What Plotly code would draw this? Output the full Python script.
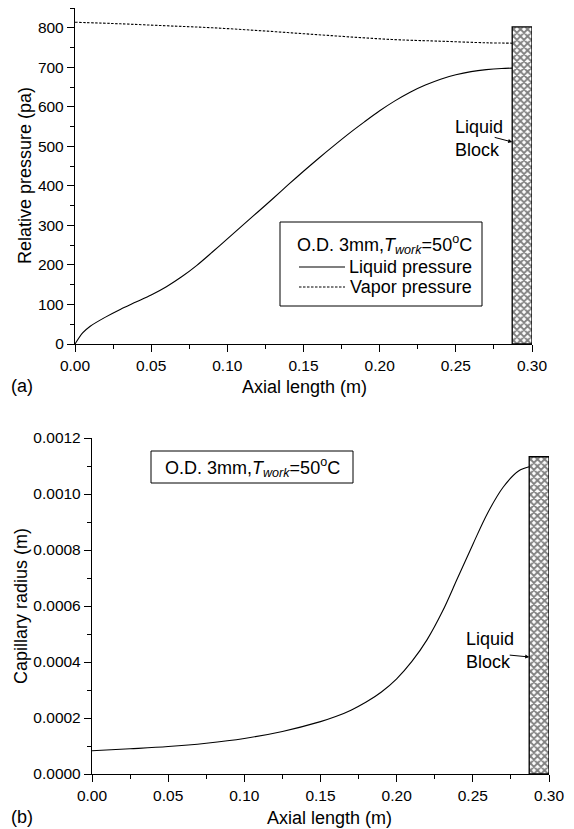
import plotly.graph_objects as go

# (a) pressure along the axis
x_liq = [0, 0.005, 0.01, 0.02, 0.03, 0.04, 0.05, 0.06, 0.07, 0.08, 0.09, 0.10,
         0.11, 0.12, 0.13, 0.14, 0.15, 0.16, 0.17, 0.18, 0.19, 0.20,
         0.21, 0.22, 0.23, 0.24, 0.25, 0.26, 0.27, 0.28, 0.287]
p_liq = [0, 28, 45, 68, 88, 106, 124, 145, 170, 199, 232, 266,
         300, 334, 368, 403, 437, 470, 502, 533, 562, 590,
         615, 637, 655, 670, 681, 689, 694, 697, 698]

x_vap = [0, 0.03, 0.06, 0.09, 0.12, 0.15, 0.18, 0.21, 0.24, 0.27, 0.287]
p_vap = [814, 810, 805, 800, 793, 785, 777, 770, 766, 762, 761]

# (b) capillary radius along the axis
x_rad = [0, 0.025, 0.05, 0.075, 0.10, 0.125, 0.15, 0.16, 0.17, 0.18, 0.19, 0.20,
         0.21, 0.22, 0.23, 0.24, 0.25, 0.26, 0.27, 0.28, 0.287]
r_cap = [0.83e-4, 0.90e-4, 0.98e-4, 1.10e-4, 1.27e-4, 1.52e-4, 1.87e-4, 2.05e-4, 2.28e-4,
         2.57e-4, 2.93e-4, 3.40e-4, 4.02e-4, 4.80e-4, 5.80e-4, 7.00e-4, 8.20e-4,
         9.35e-4, 10.25e-4, 10.82e-4, 10.97e-4]

# liquid block
block_x0, block_x1 = 0.287, 0.30
block_top_a = 802
block_top_b = 0.001133

# the page body has an 8px margin, so the figure is drawn 8px smaller
OFF = 8
W, H = 574 - OFF, 829 - OFF
FONT = "Liberation Sans, Arial, sans-serif"


def px(x):
    return (x - OFF) / W


def py(y):
    return 1 - (y - OFF) / H


fig = go.Figure()

fig.add_trace(go.Scatter(x=x_liq, y=p_liq, mode="lines",
                         line=dict(color="black", width=1.1, shape="spline", smoothing=0.8),
                         xaxis="x", yaxis="y", showlegend=False))
fig.add_trace(go.Scatter(x=x_vap, y=p_vap, mode="lines",
                         line=dict(color="black", width=1.1, dash="2.5px,1.5px", shape="spline"),
                         xaxis="x", yaxis="y", showlegend=False))
fig.add_trace(go.Scatter(x=x_rad, y=r_cap, mode="lines",
                         line=dict(color="black", width=1.1, shape="spline", smoothing=1.0),
                         xaxis="x2", yaxis="y2", showlegend=False))

hatch = dict(shape="x", fgcolor="black", bgcolor="white", size=5, solidity=0.6)
for top, xa, ya in [(block_top_a, "x", "y"), (block_top_b, "x2", "y2")]:
    fig.add_trace(go.Bar(x=[(block_x0 + block_x1) / 2], y=[top], width=[block_x1 - block_x0],
                         marker=dict(color="white", pattern=hatch, line=dict(color="black", width=1.3)),
                         xaxis=xa, yaxis=ya, showlegend=False))

axis_common = dict(
    showline=True, linecolor="black", linewidth=1.3, mirror=False, automargin=False,
    ticks="outside", ticklen=7, tickwidth=1.2, tickcolor="black",
    showgrid=False, zeroline=False,
    tickfont=dict(family=FONT, size=15.5, color="black"),
)

fig.update_layout(
    width=W, height=H,
    margin=dict(l=0, r=0, t=0, b=0),
    paper_bgcolor="white", plot_bgcolor="white",
    showlegend=False,
    xaxis=dict(domain=[px(75), px(532)], anchor="y", range=[0, 0.30], dtick=0.05, tickformat=".2f",
               minor=dict(ticks="outside", ticklen=4, dtick=0.025, tickcolor="black"), **axis_common),
    yaxis=dict(domain=[py(344), py(8)], anchor="x", range=[0, 850], tick0=0, dtick=100,
               minor=dict(ticks="outside", ticklen=4, dtick=50, tickcolor="black"), **axis_common),
    xaxis2=dict(domain=[px(92), px(549)], anchor="y2", range=[0, 0.30], dtick=0.05, tickformat=".2f",
                minor=dict(ticks="outside", ticklen=4, dtick=0.025, tickcolor="black"), **axis_common),
    yaxis2=dict(domain=[py(774), py(438)], anchor="x2", range=[0, 0.0012], dtick=0.0002, tickformat=".4f",
                minor=dict(ticks="outside", ticklen=4, dtick=0.0001, tickcolor="black"), **axis_common),
)

txt = dict(family=FONT, size=18, color="black")
title_cond = "O.D. 3mm,<i>T</i><sub><i>work</i></sub>=50<sup>o</sup>C"

ann = [
    # axis titles
    dict(x=px(25), y=py(176), text="Relative pressure (pa)", textangle=-90),
    dict(x=px(304), y=py(387), text="Axial length (m)"),
    dict(x=px(21), y=py(606), text="Capillary radius (m)", textangle=-90),
    dict(x=px(329), y=py(818), text="Axial length (m)"),
    dict(x=px(22), y=py(386), text="(a)"),
    dict(x=px(22), y=py(817), text="(b)"),
    # legend (a)
    dict(x=px(474), y=py(244), text=title_cond, xanchor="right"),
    dict(x=px(474), y=py(267), text="Liquid pressure", xanchor="right"),
    dict(x=px(474), y=py(287), text="Vapor pressure", xanchor="right"),
    # legend (b)
    dict(x=px(252), y=py(467), text=title_cond),
    # liquid block labels
    dict(x=px(453), y=py(139), text="Liquid<br>Block", xanchor="left", align="left"),
    dict(x=px(464), y=py(650), text="Liquid<br>Block", xanchor="left", align="left"),
]
for a in ann:
    a.setdefault("xanchor", "center")
    a.update(xref="paper", yref="paper", yanchor="middle", showarrow=False, font=txt)
    fig.add_annotation(**a)

# arrows to the block
fig.add_annotation(x=block_x0, y=511, xref="x", yref="y", ax=-19, ay=-5, text="",
                   showarrow=True, arrowhead=2, arrowsize=0.8, arrowwidth=1, arrowcolor="black")
fig.add_annotation(x=block_x0, y=0.000418, xref="x2", yref="y2", ax=-21, ay=-2, text="",
                   showarrow=True, arrowhead=2, arrowsize=0.8, arrowwidth=1, arrowcolor="black")

# legend boxes and line samples
fig.add_shape(type="rect", xref="paper", yref="paper", x0=px(280), x1=px(482), y0=py(306), y1=py(222),
              line=dict(color="black", width=1), fillcolor="white", layer="below")
fig.add_shape(type="line", xref="paper", yref="paper", x0=px(299), x1=px(345), y0=py(267), y1=py(267),
              line=dict(color="black", width=1.1))
fig.add_shape(type="line", xref="paper", yref="paper", x0=px(299), x1=px(345), y0=py(287), y1=py(287),
              line=dict(color="black", width=1.1, dash="2.5px,1.5px"))
fig.add_shape(type="rect", xref="paper", yref="paper", x0=px(151), x1=px(353), y0=py(483), y1=py(451),
              line=dict(color="black", width=1), fillcolor="white", layer="below")

fig.write_html("out.html")
